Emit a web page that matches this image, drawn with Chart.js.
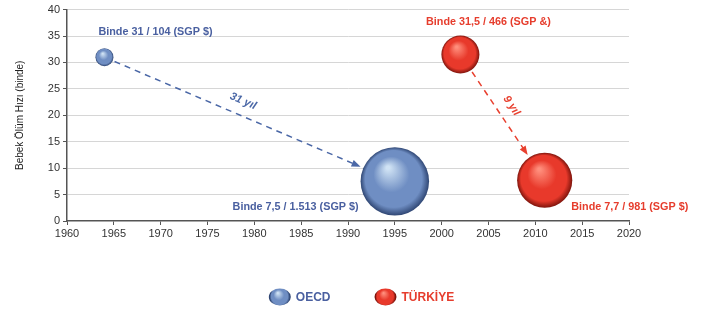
<!DOCTYPE html>
<html>
<head>
<meta charset="utf-8">
<script src="https://cdn.jsdelivr.net/npm/chart.js@4.4.1/dist/chart.umd.min.js"></script>
<style>
  html, body { margin: 0; padding: 0; background: #fff; }
  #wrap { width: 705px; height: 311px; }
</style>
</head>
<body>
<div id="wrap"><canvas id="main-chart"></canvas></div>
<script>
// data
const seriesNames = ['OECD', 'TÜRKİYE']
const oecdYears = [1964, 1995]
const oecdRates = [31, 7.5]
const oecdGdp = [104, 1513]
const oecdLabels = ['Binde 31 / 104 (SGP $)', 'Binde 7,5 / 1.513 (SGP $)']
const trYears = [2002, 2011]
const trRates = [31.5, 7.7]
const trGdp = [466, 981]
const trLabels = ['Binde 31,5 / 466 (SGP &)', 'Binde 7,7 / 981 (SGP $)']
const spanLabels = ['31 yıl', '9 yıl']
const xTicks = [1960, 1965, 1970, 1975, 1980, 1985, 1990, 1995, 2000, 2005, 2010, 2015, 2020]
const yTicks = [0, 5, 10, 15, 20, 25, 30, 35, 40]
const yTitle = 'Bebek Ölüm Hızı (binde)'

const blue = { hi: '#cfe2f4', mid: '#6f8ec3', dark: '#2f4673', text: '#4a60a0', line: '#4a67a6' }
const red = { hi: '#ff8e7c', mid: '#e8392b', dark: '#7e140c', text: '#e63d2d', line: '#e8402f' }

// bubble radius from GDP per head
let sizeOf = function(gdp) {
  return 0.88 * Math.sqrt(gdp)
}

function makePoints(years, rates, gdp) {
  return years.map((y, i) => ({ x: y, y: rates[i], r: sizeOf(gdp[i]) }))
}

function sphere(ctx, x, y, r, pal) {
  let g = ctx.createRadialGradient(x - r * 0.2, y - r * 0.4, r * 0.05, x, y, r)
  g.addColorStop(0, pal.hi)
  g.addColorStop(0.5, pal.mid)
  g.addColorStop(0.82, pal.mid)
  g.addColorStop(1, pal.dark)
  return g
}

function sphereFill(pal) {
  return function(c) {
    if (c.type !== 'data' || !c.chart.scales.x) return pal.mid
    let s = c.chart.scales
    let x = s.x.getPixelForValue(c.raw.x)
    let y = s.y.getPixelForValue(c.raw.y)
    if (!isFinite(x) || !isFinite(y)) return pal.mid
    return sphere(c.chart.ctx, x, y, c.raw.r, pal)
  }
}

function drawArrow(ctx, p1, r1, p2, r2, pal, label) {
  let dx = p2.x - p1.x, dy = p2.y - p1.y
  let len = Math.sqrt(dx * dx + dy * dy)
  let ux = dx / len, uy = dy / len
  let sx = p1.x + ux * (r1 + 2), sy = p1.y + uy * (r1 + 2)
  let ex = p2.x - ux * (r2 + 3), ey = p2.y - uy * (r2 + 3)
  ctx.save()
  ctx.strokeStyle = pal.line
  ctx.fillStyle = pal.line
  ctx.lineWidth = 1.5
  ctx.setLineDash([6, 5])
  ctx.beginPath()
  ctx.moveTo(sx, sy)
  ctx.lineTo(ex - ux * 6, ey - uy * 6)
  ctx.stroke()
  ctx.setLineDash([])
  // arrow head
  let hl = 9, hw = 3.5
  ctx.beginPath()
  ctx.moveTo(ex, ey)
  ctx.lineTo(ex - ux * hl - uy * hw, ey - uy * hl + ux * hw)
  ctx.lineTo(ex - ux * hl + uy * hw, ey - uy * hl - ux * hw)
  ctx.closePath()
  ctx.fill()
  // label above the middle of the line
  let mx = (sx + ex) / 2 + uy * 14, my = (sy + ey) / 2 - ux * 14
  ctx.translate(mx, my)
  ctx.rotate(Math.atan2(dy, dx))
  ctx.font = 'italic bold 11px "Liberation Sans", Arial, sans-serif'
  ctx.textAlign = 'center'
  ctx.textBaseline = 'middle'
  ctx.fillText(label, 0, 0)
  ctx.restore()
}

const annotate = {
  id: 'annotate',
  afterDatasetsDraw(chart) {
    let ctx = chart.ctx
    let sx = chart.scales.x, sy = chart.scales.y
    let px = (yr, v) => ({ x: sx.getPixelForValue(yr), y: sy.getPixelForValue(v) })

    let o1 = px(oecdYears[0], oecdRates[0]), o2 = px(oecdYears[1], oecdRates[1])
    let t1 = px(trYears[0], trRates[0]), t2 = px(trYears[1], trRates[1])
    let ro1 = sizeOf(oecdGdp[0]), ro2 = sizeOf(oecdGdp[1])
    let rt1 = sizeOf(trGdp[0]), rt2 = sizeOf(trGdp[1])

    drawArrow(ctx, o1, ro1, o2, ro2, blue, spanLabels[0])
    drawArrow(ctx, t1, rt1, t2, rt2, red, spanLabels[1])

    ctx.save()
    ctx.font = 'bold 10.8px "Liberation Sans", Arial, sans-serif'
    ctx.textBaseline = 'middle'
    ctx.fillStyle = blue.text
    ctx.textAlign = 'left'
    ctx.fillText(oecdLabels[0], o1.x - 6, o1.y - 25)
    ctx.textAlign = 'right'
    ctx.fillText(oecdLabels[1], o2.x - ro2 - 2, o2.y + 26)
    ctx.fillStyle = red.text
    ctx.textAlign = 'center'
    ctx.fillText(trLabels[0], t1.x + 28, t1.y - 32)
    ctx.textAlign = 'left'
    ctx.fillText(trLabels[1], t2.x + rt2 - 1, t2.y + 27)
    ctx.restore()

    // legend
    ctx.save()
    ctx.font = 'bold 12px "Liberation Sans", Arial, sans-serif'
    ctx.textBaseline = 'middle'
    let pals = [blue, red]
    let rr = 10, gap = 6, between = 45
    let widths = seriesNames.map(n => ctx.measureText(n).width)
    let total = widths.reduce((a, w) => a + 2 * rr + gap + w, 0) + between
    let x = (chart.chartArea.left + chart.chartArea.right) / 2 + 14 - total / 2
    let ly = chart.chartArea.bottom + 76
    seriesNames.forEach((n, i) => {
      let cx = x + rr
      ctx.fillStyle = sphere(ctx, cx, ly, rr, pals[i])
      ctx.beginPath()
      ctx.ellipse(cx, ly, rr + 1, rr - 1.5, 0, 0, Math.PI * 2)
      ctx.fill()
      ctx.fillStyle = pals[i].text
      ctx.textAlign = 'left'
      ctx.fillText(n, x + 2 * rr + gap, ly + 1)
      x += 2 * rr + gap + widths[i] + between
    })
    ctx.restore()
  }
}

let source = document.getElementById('main-chart')

let repChart = new Chart(source, {
  type: 'bubble',
  data: {
    datasets: [{
      label: seriesNames[0],
      data: makePoints(oecdYears, oecdRates, oecdGdp),
      backgroundColor: sphereFill(blue),
      borderWidth: 0,
      hoverBorderWidth: 0
    }, {
      label: seriesNames[1],
      data: makePoints(trYears, trRates, trGdp),
      backgroundColor: sphereFill(red),
      borderWidth: 0,
      hoverBorderWidth: 0
    }]
  },
  options: {
    responsive: true,
    maintainAspectRatio: false,
    animation: false,
    events: [],
    devicePixelRatio: 1,
    layout: { autoPadding: false, padding: { left: 0, right: 76, top: 5, bottom: 68 } },
    plugins: {
      legend: { display: false },
      tooltip: { enabled: false }
    },
    scales: {
      x: {
        type: 'linear',
        min: xTicks[0],
        max: xTicks[xTicks.length - 1],
        afterBuildTicks: s => { s.ticks = xTicks.map(v => ({ value: v })) },
        afterFit: s => { s.height = 22 },
        ticks: {
          color: '#333',
          padding: 2,
          maxRotation: 0,
          font: { family: '"Liberation Sans", Arial, sans-serif', size: 11 },
          callback: v => String(v)
        },
        grid: { drawOnChartArea: false, drawTicks: true, tickLength: 4, tickColor: '#555' },
        border: { display: true, color: '#555', width: 1.5 }
      },
      y: {
        min: yTicks[0],
        max: yTicks[yTicks.length - 1],
        afterBuildTicks: s => { s.ticks = yTicks.map(v => ({ value: v })) },
        afterFit: s => { s.width = 67 },
        title: {
          display: true,
          text: yTitle,
          color: '#222',
          padding: { top: 14, bottom: 0 },
          font: { family: '"Liberation Sans", Arial, sans-serif', size: 10 }
        },
        ticks: {
          color: '#333',
          padding: 3,
          font: { family: '"Liberation Sans", Arial, sans-serif', size: 11 }
        },
        grid: {
          color: c => c.tick && c.tick.value === 0 ? 'rgba(0,0,0,0)' : '#d6d6d6',
          lineWidth: 1,
          borderDash: [2, 2],
          drawTicks: true,
          tickLength: 4,
          tickColor: '#555',
          tickBorderDash: []
        },
        border: { display: true, color: '#555', width: 1.5 }
      }
    }
  },
  plugins: [annotate]
})
</script>
</body>
</html>
